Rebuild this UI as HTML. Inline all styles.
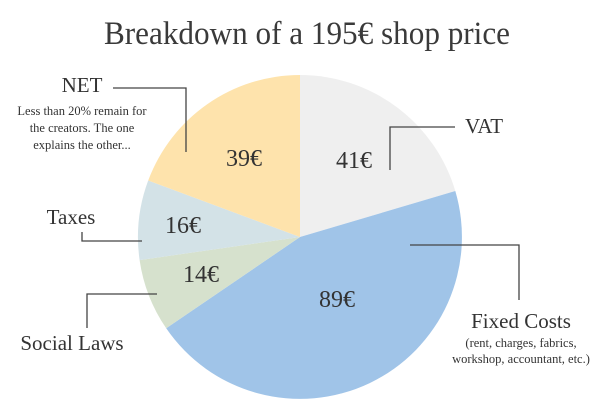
<!DOCTYPE html>
<html><head><meta charset="utf-8"><style>
body{margin:0;background:#fff;}
svg{display:block;font-family:"Liberation Serif",serif;}
</style></head><body>
<svg width="600" height="419" viewBox="0 0 600 419">
<text x="104" y="44" font-size="33" textLength="406" lengthAdjust="spacingAndGlyphs" fill="#3a3a3a">Breakdown of a 195€ shop price</text>
<g>
<path d="M300,237 L300,75 A162,162 0 0 1 455.3,191 Z" fill="#efefef"/>
<path d="M300,237 L455.3,191 A162,162 0 0 1 166.2,328.3 Z" fill="#a0c4e8"/>
<path d="M300,237 L166.2,328.3 A162,162 0 0 1 139.6,260.1 Z" fill="#d6e1cd"/>
<path d="M300,237 L139.6,260.1 A162,162 0 0 1 148.2,180.5 Z" fill="#d3e2e7"/>
<path d="M300,237 L148.2,180.5 A162,162 0 0 1 300,75 Z" fill="#fee3ac"/>
</g>
<g font-size="24" fill="#333" text-anchor="middle">
<text x="244" y="166">39€</text>
<text x="354" y="168">41€</text>
<text x="183" y="233">16€</text>
<text x="201" y="282">14€</text>
<text x="337" y="307">89€</text>
</g>
<g stroke="#444" stroke-width="1.3" fill="none">
<polyline points="113,88 186,88 186,152"/>
<polyline points="455,127 390,127 390,170"/>
<polyline points="82,232 82,241 142,241"/>
<polyline points="87,328 87,294 157,294"/>
<polyline points="410,245 519,245 519,300"/>
</g>
<g fill="#333">
<text x="82" y="92" font-size="21" text-anchor="middle">NET</text>
<text x="82" y="115" font-size="12.5" text-anchor="middle">Less than 20% remain for</text>
<text x="82" y="132" font-size="12.5" text-anchor="middle">the creators. The one</text>
<text x="82" y="149" font-size="12.5" text-anchor="middle">explains the other...</text>
<text x="71" y="224" font-size="21" text-anchor="middle">Taxes</text>
<text x="72" y="350" font-size="21" text-anchor="middle">Social Laws</text>
<text x="484" y="133" font-size="21" text-anchor="middle">VAT</text>
<text x="521" y="328" font-size="21" text-anchor="middle">Fixed Costs</text>
<text x="521" y="347" font-size="12.5" text-anchor="middle">(rent, charges, fabrics,</text>
<text x="521" y="363" font-size="12.5" text-anchor="middle">workshop, accountant, etc.)</text>
</g>
</svg>
</body></html>
